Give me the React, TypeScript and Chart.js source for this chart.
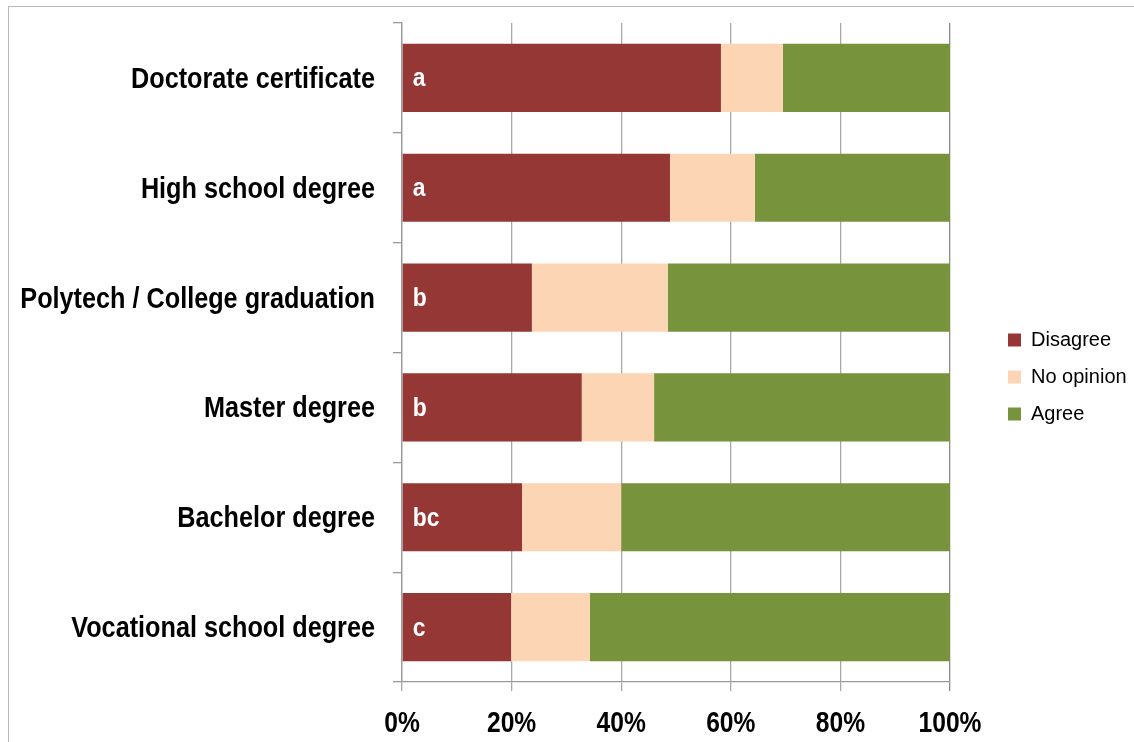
import React, { useEffect, useRef } from "react";
import { Chart, registerables } from "chart.js";

Chart.register(...registerables);

const categories = [
  "Doctorate certificate",
  "High school degree",
  "Polytech / College graduation",
  "Master degree",
  "Bachelor degree",
  "Vocational school degree",
];
const disagree = [58.2, 48.9, 23.7, 32.8, 21.9, 19.9];
const noOpinion = [11.3, 15.5, 24.8, 13.2, 18.1, 14.4];
const agree = [30.5, 35.6, 51.5, 54.0, 60.0, 65.7];
const groupLetters = ["a", "a", "b", "b", "bc", "c"];
const xTicks = [0, 20, 40, 60, 80, 100];

const FONT = "'Liberation Sans', Arial, sans-serif";

// Draws the (condensed) axis labels and the group letters through the chart's scales
const labelPlugin = {
  id: "condensedLabels",
  beforeUpdate(chart: any) {
    const lg = chart.legend;
    if (lg && !lg.__patched) {
      const orig = lg.fit.bind(lg);
      lg.fit = function () {
        orig();
        this.width = 184;
      };
      lg.__patched = true;
    }
  },
  afterLayout(chart: any) {
    const lg = chart.legend;
    if (lg) {
      const w = lg.width;
      const h = lg.height;
      lg.left = 991;
      lg.right = lg.left + w;
      lg.top = 313;
      lg.bottom = lg.top + h;
    }
  },
  afterDraw(chart: any) {
    const ctx = chart.ctx;
    const ys = chart.scales.y;
    const xs = chart.scales.x;
    const area = chart.chartArea;
    ctx.save();
    ctx.fillStyle = "#000";
    ctx.textBaseline = "alphabetic";
    // y category labels
    ctx.font = `bold 29px ${FONT}`;
    ctx.textAlign = "right";
    ys.ticks.forEach((t: any, i: number) => {
      const y = ys.getPixelForTick(i);
      ctx.save();
      ctx.translate(area.left - 27, y + 10);
      ctx.scale(0.87, 1);
      ctx.fillText(ys.getLabelForValue(t.value), 0, 0);
      ctx.restore();
    });
    // x percent labels
    ctx.font = `bold 30px ${FONT}`;
    ctx.textAlign = "center";
    xs.ticks.forEach((t: any) => {
      const x = xs.getPixelForValue(t.value);
      ctx.save();
      ctx.translate(x, 732);
      ctx.scale(0.82, 1);
      ctx.fillText(t.value + "%", 0, 0);
      ctx.restore();
    });
    ctx.restore();
  },
  afterDatasetsDraw(chart: any) {
    const meta = chart.getDatasetMeta(0);
    const ctx = chart.ctx;
    ctx.save();
    ctx.fillStyle = "#ffffff";
    ctx.font = `bold 26px ${FONT}`;
    ctx.textAlign = "left";
    ctx.textBaseline = "alphabetic";
    meta.data.forEach((bar: any, i: number) => {
      ctx.save();
      ctx.translate(bar.base + 10, bar.y + 8.5);
      ctx.scale(0.88, 1);
      ctx.fillText(groupLetters[i], 0, 0);
      ctx.restore();
    });
    ctx.restore();
  },
};

export default function App() {
  const ref = useRef<HTMLCanvasElement>(null);
  useEffect(() => {
    if (!ref.current) return;
    const chart = new Chart(ref.current, {
      type: "bar",
      data: {
        labels: categories,
        datasets: [
          { label: "Disagree", data: disagree, backgroundColor: "#953735" },
          { label: "No opinion", data: noOpinion, backgroundColor: "#FCD5B5" },
          { label: "Agree", data: agree, backgroundColor: "#77933C" },
        ],
      },
      options: {
        indexAxis: "y",
        animation: false,
        responsive: false,
        maintainAspectRatio: false,
        layout: { padding: { left: 8, top: 23, right: 0, bottom: 0 } },
        datasets: { bar: { barPercentage: 0.62, categoryPercentage: 1 } },
        scales: {
          x: {
            stacked: true,
            min: 0,
            max: 100,
            afterBuildTicks: (scale: any) => {
              scale.ticks = xTicks.map((v) => ({ value: v }));
            },
            afterFit: (scale: any) => {
              scale.height = 60;
            },
            ticks: { display: false },
            grid: {
              drawOnChartArea: true,
              tickLength: 9,
              color: (c: any) => (c.index === 5 ? "#8a8a8a" : "#a8a8a8"),
              lineWidth: 1.3,
            },
            border: { display: true, color: "#9a9a9a", width: 1.3 },
          },
          y: {
            stacked: true,
            afterFit: (scale: any) => {
              scale.width = 394;
            },
            ticks: { display: false },
            grid: {
              drawOnChartArea: false,
              offset: true,
              tickLength: 9,
              color: "#9a9a9a",
              lineWidth: 1.3,
            },
            border: { display: true, color: "#9a9a9a", width: 1.3 },
          },
        },
        plugins: {
          legend: {
            position: "right",
            align: "start",
            labels: {
              boxWidth: 13,
              boxHeight: 13,
              padding: 17,
              color: "#000",
              font: { family: FONT, size: 20 },
            },
          },
          tooltip: { enabled: false },
        },
      } as any,
      plugins: [labelPlugin],
    });
    return () => chart.destroy();
  }, []);
  return (
    <div style={{ position: "fixed", left: 0, top: 0, width: 1134, height: 742, overflow: "hidden", background: "#fff" }}>
      <div style={{ position: "absolute", left: 8, top: 6, width: 1200, height: 800, borderLeft: "1.5px solid #b8b8b8", borderTop: "1.5px solid #b8b8b8" }} />
      <canvas ref={ref} width={1134} height={742} style={{ position: "absolute", left: 0, top: 0 }} />
    </div>
  );
}
